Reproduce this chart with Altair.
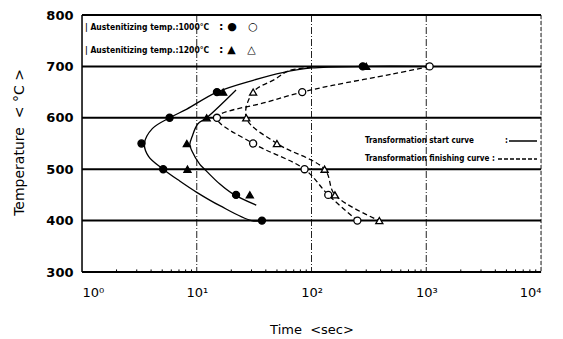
import altair as alt
import pandas as pd

# ---- data ----
# markers: (time [s], temperature [°C])
start_1000_t = [280, 15, 5.8, 3.3, 5.1, 22, 37]
start_1000_T = [700, 650, 600, 550, 500, 450, 400]
start_1200_t = [300, 17, 12.2, 8.2, 8.3, 29]
start_1200_T = [700, 650, 600, 550, 500, 450]
finish_1000_t = [1070, 83, 15, 31, 87, 140, 251]
finish_1000_T = [700, 650, 600, 550, 500, 450, 400]
finish_1200_t = [31, 27, 50, 130, 160, 390]
finish_1200_T = [650, 600, 550, 500, 450, 400]

# curve paths (in drawing order)
c_start_1000_t = [1000, 300, 100, 56, 31, 15, 8.2, 5.8, 4.1, 3.5, 3.8, 5.1, 7.1, 10, 15.9, 30, 40]
c_start_1000_T = [700, 700, 697, 688, 673, 650, 617, 600, 579, 550, 525, 500, 477, 455, 429, 400, 400]
c_start_1200_t = [22, 12.2, 10.2, 9.1, 8.7, 9.1, 10.6, 11.7, 15.9, 20.6, 33]
c_start_1200_T = [654, 600, 588, 563, 548, 535, 510, 500, 471, 452, 430]
c_finish_1000_t = [1070, 505, 152, 83, 40, 15, 31, 87, 140, 251]
c_finish_1000_T = [700, 685, 663, 650, 630, 600, 550, 500, 450, 400]
c_finish_1200_t = [100, 64, 48, 31, 27, 50, 130, 160, 390]
c_finish_1200_T = [698, 692, 675, 650, 600, 550, 500, 450, 400]

h_lines = [400, 500, 600, 700, 800]
v_grid = [10, 100, 1000]
minor_ticks = [m * 10 ** k for k in range(4) for m in range(2, 10)]
x_tick_values = [1, 10, 100, 1000, 10000]
x_tick_labels = ["10⁰", "10¹", "10²", "10³", "10⁴"]
y_tick_values = [300, 400, 500, 600, 700, 800]

NB = "\u00a0"
legend_1000 = "| Austenitizing temp.:1000°C"
legend_1200 = "| Austenitizing temp.:1200°C"
sym_1000 = ":" + NB + "●" + NB * 3 + "○"
sym_1200 = ":" + NB + "▲" + NB * 3 + "△"
legend_start = "Transformation start curve"
legend_finish = "Transformation finishing curve :"
x_title = "Time" + NB * 2 + "<sec>"
y_title = "Temperature" + NB * 2 + "<" + NB + "°C" + NB + ">"

W, H = 459, 257
XS = alt.Scale(type="log", domain=[1, 10000])
YS = alt.Scale(domain=[300, 800])
NARROW = "DejaVu Sans Condensed, Liberation Sans Narrow, Liberation Sans, sans-serif"

def pts(t, T):
    return pd.DataFrame({"t": t, "T": T})

def path(t, T):
    return pd.DataFrame({"t": t, "T": T, "i": list(range(len(t)))})

label_expr = "[" + ",".join("'" + s + "'" for s in x_tick_labels) + "][round(log(datum.value)/LN10)]"

xenc = alt.X("t:Q", scale=XS, axis=alt.Axis(
    values=x_tick_values, labelExpr=label_expr, ticks=False, domain=False, grid=False,
    labelFont="DejaVu Sans", labelFontSize=13, labelColor="black", labelPadding=14,
    title=x_title, titleFont="DejaVu Sans", titleFontSize=13, titleFontWeight="normal",
    titleColor="black", titleY=57, titleBaseline="middle"))
yenc = alt.Y("T:Q", scale=YS, axis=alt.Axis(
    values=y_tick_values, ticks=False, domain=False, grid=False,
    labelFont="DejaVu Sans", labelFontSize=13, labelFontWeight="bold", labelColor="black",
    labelPadding=9, title=y_title, titleFont="DejaVu Sans", titleFontSize=14,
    titleFontWeight="normal", titleColor="black", titleX=-63, titleY=127, titleAngle=-90,
    titleBaseline="middle", titleAlign="center"))

# grid / frame
hl = alt.Chart(pd.DataFrame({"T": h_lines})).mark_rule(color="black", strokeWidth=2).encode(y=alt.Y("T:Q", scale=YS))
bottom = alt.Chart(pd.DataFrame({"T": [300]})).mark_rule(color="black", strokeWidth=2).encode(y=alt.Y("T:Q", scale=YS))
vg = alt.Chart(pd.DataFrame({"t": v_grid})).mark_rule(color="#222", strokeWidth=1, strokeDash=[7, 2, 1, 2]).encode(x=alt.X("t:Q", scale=XS))
left = alt.Chart(pd.DataFrame({"t": [1]})).mark_rule(color="black", strokeWidth=1.5).encode(x=alt.X("t:Q", scale=XS))
right = alt.Chart(pd.DataFrame({"t": [10000]})).mark_rule(color="#222", strokeWidth=1, strokeDash=[4, 2]).encode(x=alt.X("t:Q", scale=XS))
mt = alt.Chart(pd.DataFrame({"t": minor_ticks, "a": 300, "b": 305})).mark_rule(color="black", strokeWidth=1).encode(
    x=alt.X("t:Q", scale=XS), y=alt.Y("a:Q", scale=YS), y2="b:Q")

def curve(t, T, dash=None):
    kw = dict(color="black", strokeWidth=1.3, interpolate="catmull-rom")
    if dash:
        kw["strokeDash"] = dash
    return alt.Chart(path(t, T)).mark_line(**kw).encode(
        x=alt.X("t:Q", scale=XS), y=alt.Y("T:Q", scale=YS), order="i:Q")

cs1 = curve(c_start_1000_t, c_start_1000_T)
cs2 = curve(c_start_1200_t, c_start_1200_T)
cf1 = curve(c_finish_1000_t, c_finish_1000_T, [5, 3])
cf2 = curve(c_finish_1200_t, c_finish_1200_T, [5, 3])

def marks(t, T, shape, filled):
    return alt.Chart(pts(t, T)).mark_point(
        shape=shape, size=50, filled=True, fill="black" if filled else "white",
        stroke="black", strokeWidth=1.3, opacity=1).encode(x=xenc, y=yenc)

m1 = marks(start_1000_t, start_1000_T, "circle", True)
m2 = marks(start_1200_t, start_1200_T, "triangle-up", True)
m3 = marks(finish_1000_t, finish_1000_T, "circle", False)
m4 = marks(finish_1200_t, finish_1200_T, "triangle-up", False)

def label(txt, x, y, size, weight="bold", font=NARROW):
    return alt.Chart(pd.DataFrame({"_": [0]})).mark_text(
        text=txt, align="left", baseline="middle", font=font,
        fontSize=size, fontWeight=weight, color="black").encode(x=alt.value(x), y=alt.value(y))

lab1 = label(legend_1000, 3, 12, 8.5)
lab1b = label(sym_1000, 137, 12, 11, "bold", "DejaVu Sans")
lab2 = label(legend_1200, 3, 35, 8.5)
lab2b = label(sym_1200, 137, 35, 11, "bold", "DejaVu Sans")
lab3 = label(legend_start, 283, 126, 8)
lab3b = label(":", 423, 126, 8)
lab4 = label(legend_finish, 283, 144, 8)
sw1 = alt.Chart(pd.DataFrame({"_": [0]})).mark_rule(color="black", strokeWidth=1.5).encode(
    x=alt.value(427), x2=alt.value(455), y=alt.value(126))
sw2 = alt.Chart(pd.DataFrame({"_": [0]})).mark_rule(color="black", strokeWidth=1.5, strokeDash=[4, 2]).encode(
    x=alt.value(416), x2=alt.value(455), y=alt.value(144))

chart = alt.layer(
    vg, right, hl, bottom, left, mt, cs1, cs2, cf1, cf2, m3, m4, m1, m2,
    lab1, lab1b, lab2, lab2b, lab3, lab3b, lab4, sw1, sw2,
).properties(
    width=W, height=H, autosize=alt.AutoSizeParams(type="none"),
    padding={"left": 74, "top": 7, "right": 10, "bottom": 66},
).configure_view(stroke=None).configure(background="white")

chart.save("out.html", embed_options={"renderer": "svg", "actions": False})
